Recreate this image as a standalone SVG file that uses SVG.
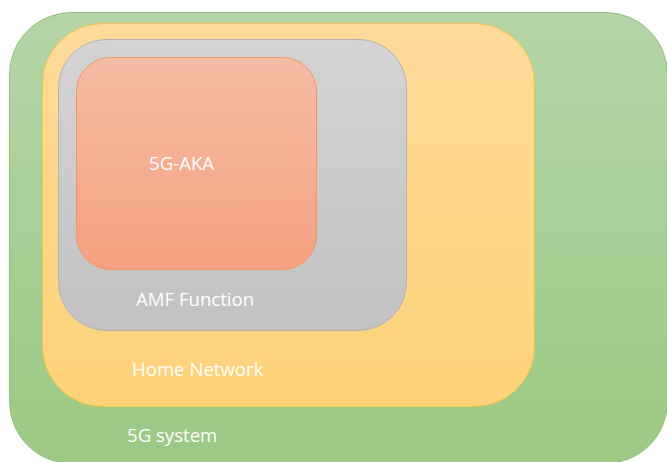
<svg xmlns="http://www.w3.org/2000/svg" width="667" height="462" viewBox="0 0 667 462">
  <defs>
    <linearGradient id="gGreen" x1="0" y1="0" x2="0" y2="1">
      <stop offset="0" stop-color="#b4d5a7"/>
      <stop offset="1" stop-color="#9bc984"/>
    </linearGradient>
    <linearGradient id="gYellow" x1="0" y1="0" x2="0" y2="1">
      <stop offset="0" stop-color="#fedb9a"/>
      <stop offset="1" stop-color="#fed277"/>
    </linearGradient>
    <linearGradient id="gGray" x1="0" y1="0" x2="0" y2="1">
      <stop offset="0" stop-color="#d4d4d4"/>
      <stop offset="1" stop-color="#c2c2c2"/>
    </linearGradient>
    <linearGradient id="gOrange" x1="0" y1="0" x2="0" y2="1">
      <stop offset="0" stop-color="#f5bca4"/>
      <stop offset="1" stop-color="#f5a17e"/>
    </linearGradient>
  </defs>
  <style>
    .lbl { font-family: "Open Sans", "Liberation Sans", sans-serif; font-size: 18.6px; fill: #ffffff; }
  </style>
  <rect width="667" height="462" fill="#ffffff"/>

  <g id="system">
    <rect x="9.5" y="12.5" width="658" height="451" rx="62" ry="62" fill="url(#gGreen)" stroke="#93c27c" stroke-width="1"/>
    <text class="lbl" x="127" y="442">5G system</text>
  </g>

  <g id="home-network">
    <rect x="42.5" y="23.5" width="492" height="383" rx="60" ry="60" fill="url(#gYellow)" stroke="#f4c443" stroke-width="1"/>
    <text class="lbl" x="132" y="376">Home Network</text>
  </g>

  <g id="amf">
    <rect x="58.5" y="39.5" width="348" height="291" rx="48" ry="48" fill="url(#gGray)" stroke="#b3b3b3" stroke-width="1"/>
    <text class="lbl" x="136" y="306">AMF Function</text>
  </g>

  <g id="aka">
    <rect x="76.5" y="57.5" width="240" height="212" rx="34" ry="34" fill="url(#gOrange)" stroke="#ee9868" stroke-width="1"/>
    <text class="lbl" x="149" y="170">5G-AKA</text>
  </g>

  <g id="connectors"/>
</svg>
